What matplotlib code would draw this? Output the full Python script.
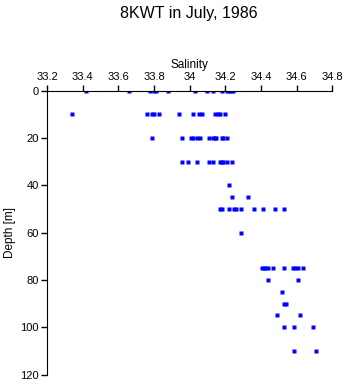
import numpy as np
import matplotlib
matplotlib.use("Agg")
import matplotlib.pyplot as plt

# salinity readings per depth level
depths = [0, 10, 20, 30, 40, 45, 50, 60, 75, 80, 85, 90, 95, 100, 110]
salinity = [
    [33.42, 33.66, 33.78, 33.80, 33.81, 33.88, 34.03, 34.10, 34.13, 34.18, 34.21, 34.22, 34.235, 34.245],
    [33.34, 33.76, 33.79, 33.80, 33.83, 33.94, 34.02, 34.05, 34.07, 34.14, 34.16, 34.17, 34.20],
    [33.79, 33.96, 34.01, 34.02, 34.04, 34.06, 34.11, 34.13, 34.14, 34.15, 34.18, 34.19, 34.21],
    [33.96, 33.99, 34.04, 34.11, 34.13, 34.17, 34.18, 34.19, 34.21, 34.24],
    [34.22],
    [34.24, 34.33],
    [34.17, 34.18, 34.22, 34.25, 34.26, 34.29, 34.36, 34.41, 34.48, 34.53],
    [34.29],
    [34.405, 34.415, 34.425, 34.44, 34.47, 34.53, 34.58, 34.59, 34.61, 34.635],
    [34.44, 34.61],
    [34.52],
    [34.53, 34.54],
    [34.49, 34.62],
    [34.53, 34.585, 34.695],
    [34.585, 34.71],
]
x_ticks = [33.2, 33.4, 33.6, 33.8, 34, 34.2, 34.4, 34.6, 34.8]
y_ticks = [0, 20, 40, 60, 80, 100, 120]

plt.rcParams['font.family'] = ['Liberation Sans', 'DejaVu Sans']

fig = plt.figure(figsize=(3.46, 3.84), dpi=100)
ax = fig.add_axes([0.136, 0.0247, 0.824, 0.7393])

xs = []
ys = []
for d, row in zip(depths, salinity):
    for s in row:
        xs.append(s)
        ys.append(d)
ax.plot(xs, ys, linestyle='none', marker='s', ms=2.4, color='#0000ff', mec='none')

ax.set_xlim(33.2, 34.8)
ax.set_ylim(120, 0)
ax.set_xticks(x_ticks)
ax.set_xticklabels(['%g' % t for t in x_ticks])
ax.set_yticks(y_ticks)

ax.xaxis.tick_top()
ax.xaxis.set_label_position('top')
ax.spines['bottom'].set_visible(False)
ax.spines['right'].set_visible(False)
ax.tick_params(axis='both', direction='out', length=4, width=1, labelsize=8, pad=2)
ax.set_xlabel('Salinity', fontsize=8.5, labelpad=3)
ax.set_ylabel('Depth [m]', fontsize=8.5, labelpad=3)

fig.text(0.545, 0.985, '8KWT in July, 1986', ha='center', va='top', fontsize=11.5)

fig.savefig('out.png', dpi=100)
